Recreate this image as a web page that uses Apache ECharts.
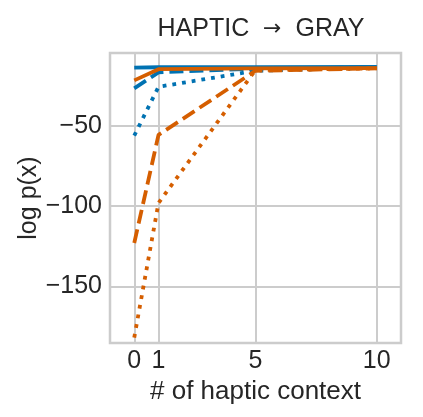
<!DOCTYPE html>
<html>
<head>
<meta charset="utf-8">
<script src="https://cdn.jsdelivr.net/npm/echarts@6/dist/echarts.min.js"></script>
<style>
  html, body { margin: 0; padding: 0; background: #fff; }
  #chart { width: 423px; height: 417px; }
</style>
</head>
<body>
<div id="chart"></div>
<script>
// x positions (# of haptic context)
const contexts = [0, 1, 5, 10]
const xTicks = [0, 1, 5, 10]
const yTicks = [-150, -100, -50]

// log p(x) per series
const blueSolid = [-13.5, -13.3, -13.2, -13.1]
const blueDashed = [-26.5, -16.5, -14.2, -13.3]
const blueDotted = [-56, -25.5, -15.5, -13.5]
const orangeSolid = [-21.5, -14.5, -14.0, -13.9]
const orangeDashed = [-123, -55.5, -15.5, -14.0]
const orangeDotted = [-182, -98, -15.0, -14.0]

const BLUE = '#0072B2'
const ORANGE = '#D55E00'
const GRID = '#cccccc'
const TEXT = '#262626'
const FONT = 'Liberation Sans, Arial, sans-serif'

function pts(vals) {
  return contexts.map((x, i) => [x, vals[i]])
}

function line(vals, color, type) {
  return {
    type: 'line',
    data: pts(vals),
    showSymbol: false,
    symbol: 'none',
    lineStyle: { color: color, width: 3.8, type: type, cap: 'butt' },
    silent: true,
  }
}

const chart = echarts.init(document.getElementById('chart'))
chart.setOption({
  animation: false,
  backgroundColor: '#fff',
  title: {
    text: 'HAPTIC  {arr|\u2192}  GRAY',
    left: 256,
    textAlign: 'center',
    top: 12,
    textStyle: {
      fontFamily: FONT, fontSize: 25, fontWeight: 'normal', color: TEXT,
      rich: { arr: { fontFamily: 'DejaVu Sans', fontSize: 22, color: TEXT } },
    },
  },
  grid: { left: 110, right: 22, top: 53, bottom: 74, show: true, borderColor: GRID, borderWidth: 2.5 },
  xAxis: {
    type: 'value',
    min: -1,
    max: 11,
    name: '# of haptic context',
    nameLocation: 'middle',
    nameGap: 30,
    nameTextStyle: { fontFamily: FONT, fontSize: 26, color: TEXT },
    axisLine: { show: false },
    axisTick: { show: false, customValues: xTicks },
    axisLabel: { customValues: xTicks, fontFamily: FONT, fontSize: 25, color: TEXT, margin: 6 },
    splitLine: { show: true, lineStyle: { color: GRID, width: 2 } },
  },
  yAxis: {
    type: 'value',
    min: -185.4,
    max: -4.4,
    name: 'log p(x)',
    nameLocation: 'middle',
    nameGap: 68,
    nameMoveOverlap: false,
    nameTextStyle: { fontFamily: FONT, fontSize: 25, color: TEXT },
    axisLine: { show: false },
    axisTick: { show: false, customValues: yTicks },
    axisLabel: {
      customValues: yTicks,
      fontFamily: FONT, fontSize: 25, color: TEXT, margin: 8,
      formatter: v => String(v).replace('-', '\u2212'),
    },
    splitLine: { show: true, lineStyle: { color: GRID, width: 2 } },
  },
  series: [
    line(blueSolid, BLUE, 'solid'),
    line(blueDashed, BLUE, [14, 6]),
    line(blueDotted, BLUE, [3.8, 6]),
    line(orangeSolid, ORANGE, 'solid'),
    line(orangeDashed, ORANGE, [14, 6]),
    line(orangeDotted, ORANGE, [3.8, 6]),
  ],
})
</script>
</body>
</html>
